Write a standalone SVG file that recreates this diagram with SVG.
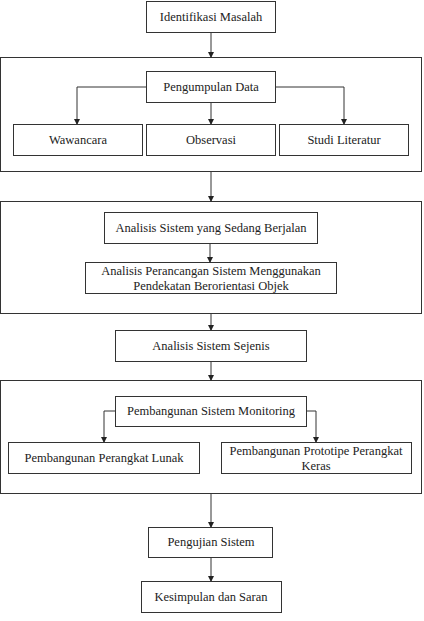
<svg xmlns="http://www.w3.org/2000/svg" width="424" height="621" viewBox="0 0 424 621">
<defs>
<marker id="ah" markerWidth="6" markerHeight="6" refX="5" refY="3" orient="auto" markerUnits="userSpaceOnUse">
<path d="M0,0 L6,3 L0,6 Z" fill="#222"/>
</marker>
</defs>
<style>
rect{fill:#fff;stroke:#333;stroke-width:1}
text{font-size:12.5px;fill:#222;text-anchor:middle}
.c{fill:none;stroke:#333;stroke-width:1}
</style>
<rect width="424" height="621" style="stroke:none"/>
<g id="containers">
<rect x="0.5" y="57.5" width="421" height="114"/>
<rect x="0.5" y="201.5" width="421" height="112"/>
<rect x="0.5" y="380.5" width="421" height="113"/>
</g>
<g id="connectors">
<path class="c" d="M211,32 V57" marker-end="url(#ah)"/>
<path class="c" d="M146,87 H77 V124" marker-end="url(#ah)"/>
<path class="c" d="M211,102 V124" marker-end="url(#ah)"/>
<path class="c" d="M275,87 H344 V124" marker-end="url(#ah)"/>
<path class="c" d="M211,172 V201" marker-end="url(#ah)"/>
<path class="c" d="M210,243 V262" marker-end="url(#ah)"/>
<path class="c" d="M211,314 V330" marker-end="url(#ah)"/>
<path class="c" d="M211,362 V380" marker-end="url(#ah)"/>
<path class="c" d="M115,411 H104 V442" marker-end="url(#ah)"/>
<path class="c" d="M306,411 H316 V442" marker-end="url(#ah)"/>
<path class="c" d="M211,494 V527" marker-end="url(#ah)"/>
<path class="c" d="M211,557 V581" marker-end="url(#ah)"/>
</g>
<g font-family="Times New Roman, Liberation Serif, DejaVu Serif, serif">
<g id="n1"><rect x="146.5" y="1.5" width="129" height="31"/><text x="211" y="21">Identifikasi Masalah</text></g>
<g id="n2"><rect x="146.5" y="71.5" width="129" height="31"/><text x="211" y="91">Pengumpulan Data</text></g>
<g id="n3"><rect x="13.5" y="124.5" width="129" height="31"/><text x="78" y="144">Wawancara</text></g>
<g id="n4"><rect x="146.5" y="124.5" width="129" height="31"/><text x="211" y="144">Observasi</text></g>
<g id="n5"><rect x="279.5" y="124.5" width="129" height="31"/><text x="344" y="144">Studi Literatur</text></g>
<g id="n6"><rect x="104.5" y="212.5" width="213" height="31"/><text x="211" y="232">Analisis Sistem yang Sedang Berjalan</text></g>
<g id="n7"><rect x="85.5" y="262.5" width="251" height="31"/><text x="211" y="275">Analisis Perancangan Sistem Menggunakan</text><text x="211" y="290">Pendekatan Berorientasi Objek</text></g>
<g id="n8"><rect x="115.5" y="330.5" width="191" height="31"/><text x="211" y="350">Analisis Sistem Sejenis</text></g>
<g id="n9"><rect x="115.5" y="396.5" width="191" height="30"/><text x="211" y="415">Pembangunan Sistem Monitoring</text></g>
<g id="n10"><rect x="8.5" y="442.5" width="191" height="31"/><text x="104" y="462">Pembangunan Perangkat Lunak</text></g>
<g id="n11"><rect x="221.5" y="442.5" width="190" height="31"/><text x="316" y="455">Pembangunan Prototipe Perangkat</text><text x="316" y="470">Keras</text></g>
<g id="n12"><rect x="148.5" y="527.5" width="124" height="30"/><text x="211" y="546">Pengujian Sistem</text></g>
<g id="n13"><rect x="141.5" y="581.5" width="140" height="31"/><text x="211" y="601">Kesimpulan dan Saran</text></g>
</g>
</svg>
